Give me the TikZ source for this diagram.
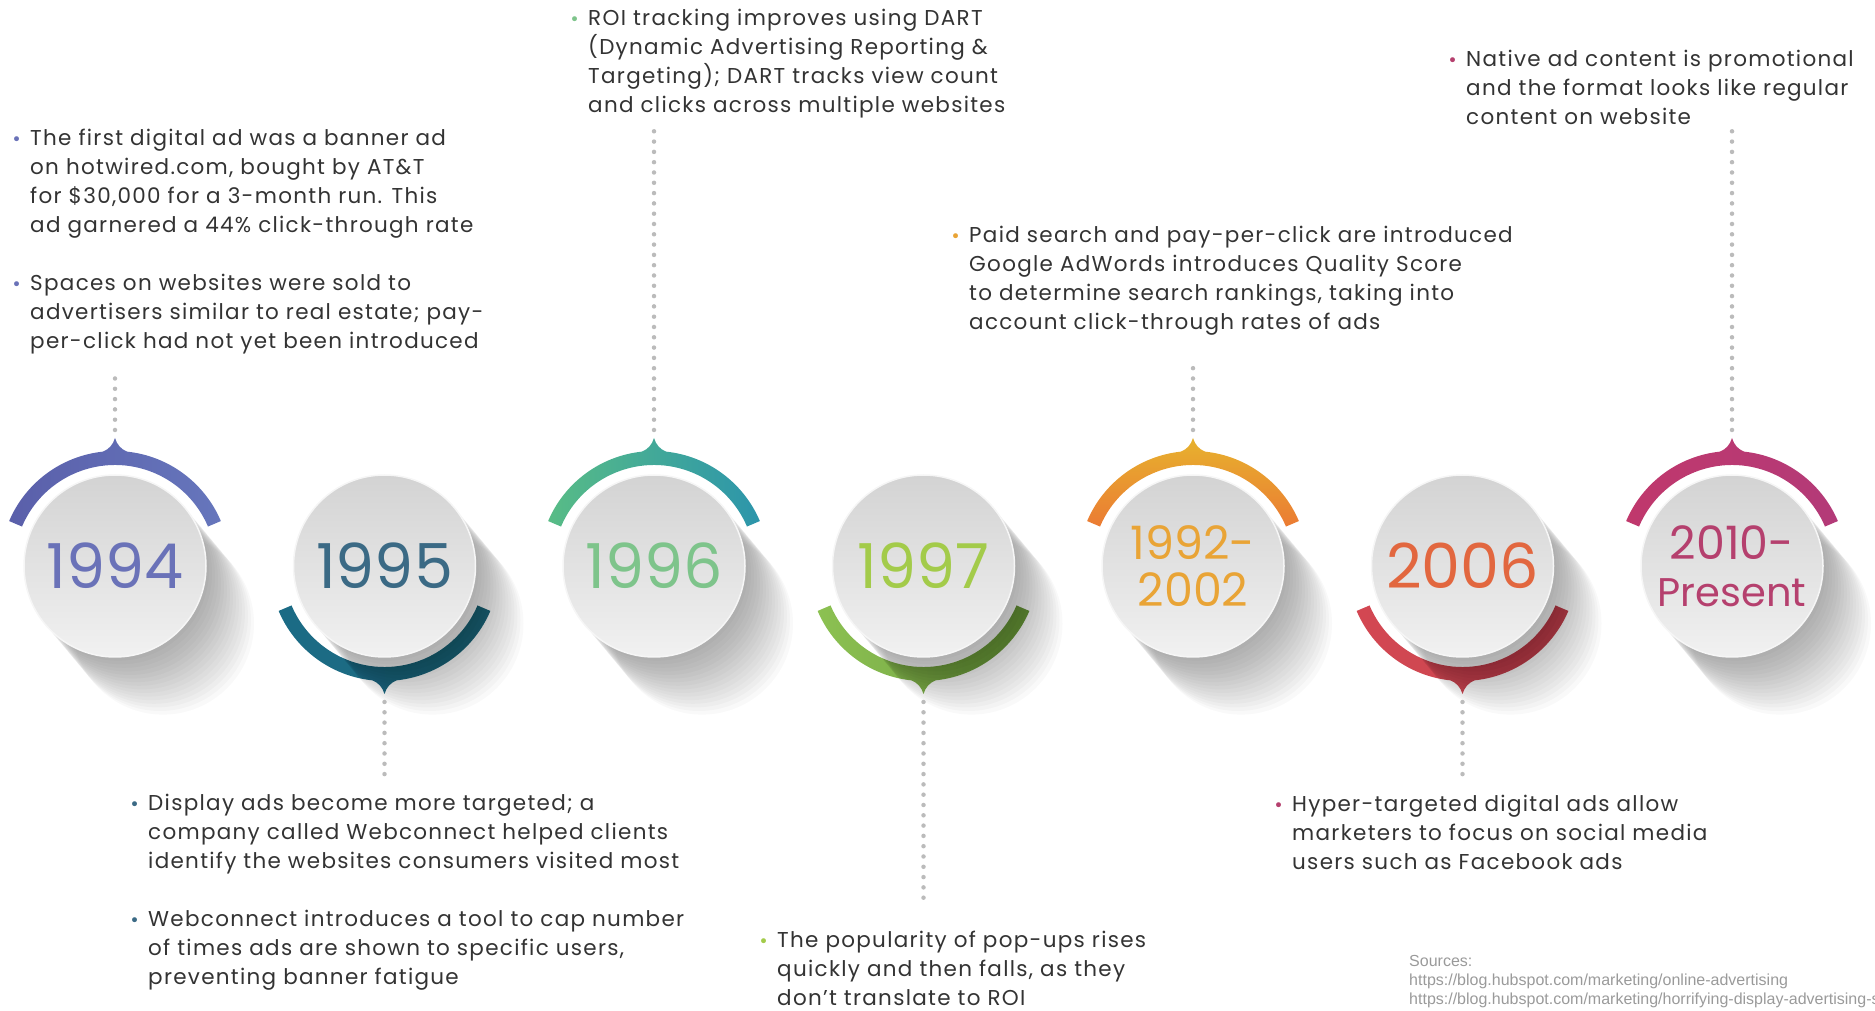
\documentclass[tikz,border=0pt]{standalone}
\usepackage{fontspec}
\setmainfont{Poppins}[LetterSpace=6]
\newfontfamily\yearfont{Poppins}
\newfontfamily\bulfont{DejaVu Sans}
\newfontfamily\srcfont{Liberation Sans}

\definecolor{ink}{HTML}{333333}
\definecolor{dotgray}{HTML}{BBBBBB}
\definecolor{srcgray}{HTML}{9A9A9A}
\definecolor{discTop}{HTML}{D3D3D3}
\definecolor{discBot}{HTML}{F1F1F1}
\definecolor{discRim}{HTML}{F6F6F6}
\definecolor{y94}{HTML}{6A72B8}
\definecolor{y95}{HTML}{3B6A85}
\definecolor{y96}{HTML}{7EC48B}
\definecolor{y97}{HTML}{A3CB4A}
\definecolor{y92}{HTML}{E9A436}
\definecolor{y06}{HTML}{E2673F}
\definecolor{y10}{HTML}{B5406E}
\definecolor{a94L}{HTML}{5A5FAA}
\definecolor{a94R}{HTML}{6676BC}
\definecolor{a95L}{HTML}{1B6B85}
\definecolor{a95R}{HTML}{1F6C80}
\definecolor{a96L}{HTML}{58BC86}
\definecolor{a96R}{HTML}{2C95AB}
\definecolor{a97L}{HTML}{8CC152}
\definecolor{a97M}{HTML}{B2B93E}
\definecolor{a97R}{HTML}{6E9D40}
\definecolor{a92T}{HTML}{E7B22E}
\definecolor{a92B}{HTML}{EB7B33}
\definecolor{a06L}{HTML}{D34752}
\definecolor{a06M}{HTML}{E65F49}
\definecolor{a06R}{HTML}{C84650}
\definecolor{a10L}{HTML}{C0386C}
\definecolor{a10R}{HTML}{B33A78}

\newcommand{\bul}[1]{\strut\llap{\textcolor{#1}{\bulfont\fontsize{17}{17}\selectfont •}\hspace{8.5pt}}}

\newcommand{\ring}[3]{%
  \shade[#3] ([shift={({#2*23}:115)}]#1) arc[start angle={#2*23}, end angle={#2*84}, radius=115]
    .. controls ([shift={({#2*87}:117)}]#1) and ([shift={({#2*89}:121)}]#1) .. ([shift={({#2*90}:128)}]#1)
    .. controls ([shift={({#2*91}:121)}]#1) and ([shift={({#2*93}:117)}]#1) .. ([shift={({#2*96}:115)}]#1)
    arc[start angle={#2*96}, end angle={#2*157}, radius=115]
    -- ([shift={({#2*157}:101)}]#1)
    arc[start angle={#2*157}, end angle={#2*23}, radius=101] -- cycle;}

\begin{document}
\begin{tikzpicture}[x=1pt, y=1pt,
    disc/.style={circle, minimum size=182pt, inner sep=0pt, top color=discTop, bottom color=discBot, draw=discRim, line width=1.5pt, align=center},
    yearbig/.style={font=\yearfont\fontsize{62}{62}\selectfont},
    yearsmall/.style={font=\yearfont\fontsize{46}{47}\selectfont},
    note/.style={anchor=north west, inner sep=0pt, align=left, text=ink, font=\fontsize{21.5}{29}\selectfont},
    dots/.style={dotgray, line width=4.5pt, line cap=round, dash pattern=on 0pt off 10.3pt},
    shadowdisc/.style={black, opacity=0.024}]

    \useasboundingbox (0,0) rectangle (1875,1010);

    \coordinate (o94) at (115,444);
    \coordinate (o95) at (384.5,444);
    \coordinate (o96) at (654,444);
    \coordinate (o97) at (923.5,444);
    \coordinate (o92) at (1193,444);
    \coordinate (o06) at (1462.5,444);
    \coordinate (o10) at (1732,444);

    \ring{o94}{1}{left color=a94L, right color=a94R}
    \ring{o95}{-1}{left color=a95L, right color=a95R}
    \ring{o96}{1}{left color=a96L, right color=a96R}
    \ring{o97}{-1}{left color=a97L, middle color=a97M, right color=a97R}
    \ring{o92}{1}{top color=a92T, bottom color=a92B}
    \ring{o06}{-1}{left color=a06L, middle color=a06M, right color=a06R}
    \ring{o10}{1}{left color=a10L, right color=a10R}

    \foreach \o in {o94,o95,o96,o97,o92,o06,o10}
        \foreach \i in {1,...,16}
            \fill[shadowdisc] ([shift={(3*\i,-3.6*\i)}]\o) circle (91);

    \node[disc, text=y94, yearbig] (b94) at (o94) {1994};
    \node[disc, text=y95, yearbig] (b95) at (o95) {1995};
    \node[disc, text=y96, yearbig] (b96) at (o96) {1996};
    \node[disc, text=y97, yearbig] (b97) at (o97) {1997};
    \node[disc, text=y92, yearsmall] (b92) at (o92) {1992-\\2002};
    \node[disc, text=y06, yearbig] (b06) at (o06) {2006};
    \node[disc, text=y10, yearsmall] (b10) at (o10) {2010-\\\fontsize{40}{47}\selectfont Present};

    \node[note] (n94) at (30,884.5) {\bul{y94}The first digital ad was a banner ad\\
        on hotwired.com, bought by AT\&T\\
        for \$30,000 for a 3-month run. This\\
        ad garnered a 44\% click-through rate\\[29pt]
        \bul{y94}Spaces on websites were sold to\\
        advertisers similar to real estate; pay-\\
        per-click had not yet been introduced};
    \node[note] (n95) at (148,220) {\bul{y95}Display ads become more targeted; a\\
        company called Webconnect helped clients\\
        identify the websites consumers visited most\\[29pt]
        \bul{y95}Webconnect introduces a tool to cap number\\
        of times ads are shown to specific users,\\
        preventing banner fatigue};
    \node[note] (n96) at (588,1005.3) {\bul{y96}ROI tracking improves using DART\\
        (Dynamic Advertising Reporting \&\\
        Targeting); DART tracks view count\\
        and clicks across multiple websites};
    \node[note] (n97) at (777,83.3) {\bul{y97}The popularity of pop-ups rises\\
        quickly and then falls, as they\\
        don’t translate to ROI};
    \node[note] (n92) at (969,788.3) {\bul{y92}Paid search and pay-per-click are introduced\\
        Google AdWords introduces Quality Score\\
        to determine search rankings, taking into\\
        account click-through rates of ads};
    \node[note] (n06) at (1292,219) {\bul{y10}Hyper-targeted digital ads allow\\
        marketers to focus on social media\\
        users such as Facebook ads};
    \node[note] (n10) at (1466,964.3) {\bul{y10}Native ad content is promotional\\
        and the format looks like regular\\
        content on website};

    \node[anchor=north west, inner sep=0pt, align=left, text=srcgray, font=\srcfont\fontsize{16}{19}\selectfont] (src) at (1409,57.3) {\strut Sources:\\
        https://blog.hubspot.com/marketing/online-advertising\\
        https://blog.hubspot.com/marketing/horrifying-display-advertising-s};

    \coordinate (t94) at (115,633);
    \coordinate (t95) at (384.5,233);
    \coordinate (t96) at (654,880);
    \coordinate (t97) at (923.5,107);
    \coordinate (t92) at (1193,651);
    \coordinate (t06) at (1462.5,233);
    \coordinate (t10) at (1732,880);

    \draw[dots] ([yshift=136]b94.center) -- (t94);
    \draw[dots] ([yshift=-136]b95.center) -- (t95);
    \draw[dots] ([yshift=136]b96.center) -- (t96);
    \draw[dots] ([yshift=-136]b97.center) -- (t97);
    \draw[dots] ([yshift=136]b92.center) -- (t92);
    \draw[dots] ([yshift=-136]b06.center) -- (t06);
    \draw[dots] ([yshift=136]b10.center) -- (t10);
\end{tikzpicture}
\end{document}
